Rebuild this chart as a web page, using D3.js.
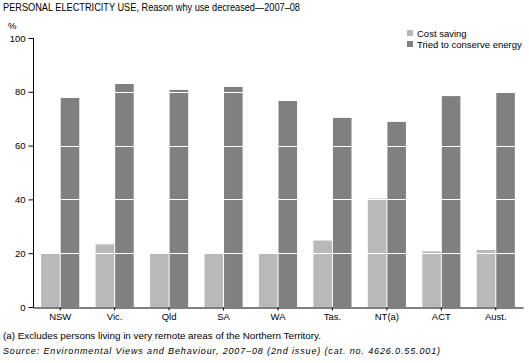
<!DOCTYPE html>
<html><head><meta charset="utf-8">
<script src="https://cdn.jsdelivr.net/npm/d3@7"></script>
<style>body{margin:0;background:#fff}svg{display:block;font-family:"Liberation Sans",Arial,sans-serif}</style>
</head><body><svg id="c" width="529" height="363"></svg>
<script>
const categories = ["NSW","Vic.","Qld","SA","WA","Tas.","NT(a)","ACT","Aust."];
const costSaving = [20, 23.3, 20, 20, 20, 24.7, 40.3, 20.7, 21.2];
const conserveEnergy = [77.7, 82.9, 80.7, 81.8, 76.6, 70.3, 68.8, 78.4, 79.9];
const seriesNames = ["Cost saving","Tried to conserve energy"];
const yTicks = [0,20,40,60,80,100];
const colors = ["#b9b9b9","#808080"];

const svg = d3.select("#c");
const x0 = d3.scaleBand().domain(categories).range([33,523]).paddingInner(0.3).paddingOuter(0.15);
const x1 = d3.scaleBand().domain([0,1]).range([0,x0.bandwidth()]);
const y = d3.scaleLinear().domain([0,100]).range([307,38]);

svg.append("text").attr("x",3).attr("y",11).attr("font-size",10.5).attr("fill","#000")
  .attr("textLength",297).attr("lengthAdjust","spacingAndGlyphs")
  .text("PERSONAL ELECTRICITY USE, Reason why use decreased\u20142007\u201308");

const data = categories.map((c,i)=>({c, v:[costSaving[i], conserveEnergy[i]]}));
const g = svg.append("g");
data.forEach(d=>{
  d.v.forEach((v,k)=>{
    g.append("rect").attr("x",x0(d.c)+x1(k)+(k===0?0:0.5)).attr("width",x1.bandwidth()-0.5)
      .attr("y",y(v)).attr("height",y(0)-y(v)).attr("fill",colors[k]);
  });
});
// white gridlines over bars
svg.append("g").selectAll("line").data(yTicks.filter(t=>t>0&&t<100)).join("line")
  .attr("x1",34).attr("x2",523).attr("y1",d=>Math.round(y(d))+0.5).attr("y2",d=>Math.round(y(d))+0.5)
  .attr("stroke","#fff").attr("stroke-width",1);

// y axis
const yAxis = d3.axisLeft(y).tickValues(yTicks).tickSize(5).tickPadding(3);
const ya = svg.append("g").attr("transform","translate(33.5,0)").call(yAxis);
ya.select(".domain").attr("d","M0,38V307.5");
ya.selectAll("text").attr("font-size",9.5).attr("font-family","Liberation Sans,Arial,sans-serif");
// x axis
const xAxis = d3.axisBottom(x0).tickSize(3).tickPadding(3).tickSizeOuter(0);
const xa = svg.append("g").attr("transform","translate(0,307.5)").call(xAxis);
xa.selectAll("text").attr("font-size",9.5).attr("font-family","Liberation Sans,Arial,sans-serif");

svg.append("text").attr("x",8).attr("y",29).attr("font-size",9.5).text("%");

// legend
const lg = svg.append("g");
seriesNames.forEach((n,k)=>{
  lg.append("rect").attr("x",407).attr("y",30+k*11).attr("width",6).attr("height",6).attr("fill",colors[k]);
  lg.append("text").attr("x",417).attr("y",37+k*11).attr("font-size",9.5).text(n);
});

svg.append("text").attr("x",3).attr("y",339).attr("font-size",9)
  .attr("textLength",318).attr("lengthAdjust","spacingAndGlyphs")
  .text("(a) Excludes persons living in very remote areas of the Northern Territory.");
svg.append("text").attr("x",3).attr("y",354).attr("font-size",9).attr("font-style","italic")
  .attr("textLength",437).attr("lengthAdjust","spacing")
  .text("Source: Environmental Views and Behaviour, 2007\u201308 (2nd issue) (cat. no. 4626.0.55.001)");
</script></body></html>
